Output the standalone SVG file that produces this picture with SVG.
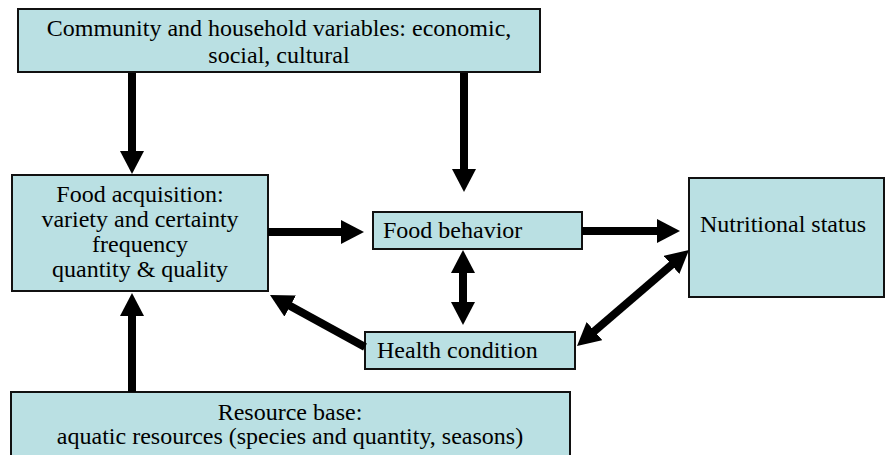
<svg xmlns="http://www.w3.org/2000/svg" width="887" height="455" viewBox="0 0 887 455">
<defs>
<marker id="ah" markerUnits="userSpaceOnUse" markerWidth="26" markerHeight="26" refX="1" refY="12" orient="auto-start-reverse" viewBox="0 0 26 26">
<path d="M0,0 L23,12 L0,24 z" fill="#000"/>
</marker>
</defs>
<rect width="887" height="455" fill="#fff"/>
<g id="community">
<rect x="18" y="9" width="522" height="63" fill="#BAE0E3" stroke="#111" stroke-width="2"/>
<text x="279" y="36" font-family="Times New Roman, Liberation Serif, serif" font-size="24" text-anchor="middle">Community and household variables: economic,</text>
<text x="279" y="63" font-family="Times New Roman, Liberation Serif, serif" font-size="24" text-anchor="middle">social, cultural</text>
</g>
<g id="food-acquisition">
<rect x="12" y="175" width="256" height="116" fill="#BAE0E3" stroke="#111" stroke-width="2"/>
<text x="140" y="202" font-family="Times New Roman, Liberation Serif, serif" font-size="24" text-anchor="middle">Food acquisition:</text>
<text x="140" y="227" font-family="Times New Roman, Liberation Serif, serif" font-size="24" text-anchor="middle">variety and certainty</text>
<text x="140" y="252" font-family="Times New Roman, Liberation Serif, serif" font-size="24" text-anchor="middle">frequency</text>
<text x="140" y="277" font-family="Times New Roman, Liberation Serif, serif" font-size="24" text-anchor="middle">quantity &amp; quality</text>
</g>
<g id="food-behavior">
<rect x="373" y="212" width="209" height="37" fill="#BAE0E3" stroke="#111" stroke-width="2"/>
<text x="383" y="238" font-family="Times New Roman, Liberation Serif, serif" font-size="24">Food behavior</text>
</g>
<g id="health-condition">
<rect x="365" y="332" width="210" height="37" fill="#BAE0E3" stroke="#111" stroke-width="2"/>
<text x="377" y="358" font-family="Times New Roman, Liberation Serif, serif" font-size="24">Health condition</text>
</g>
<g id="nutritional-status">
<rect x="689" y="178" width="195" height="119" fill="#BAE0E3" stroke="#111" stroke-width="2"/>
<text x="700" y="232" font-family="Times New Roman, Liberation Serif, serif" font-size="24">Nutritional status</text>
</g>
<g id="resource-base">
<rect x="11" y="392" width="559" height="80" fill="#BAE0E3" stroke="#111" stroke-width="2"/>
<text x="290" y="420" font-family="Times New Roman, Liberation Serif, serif" font-size="24" text-anchor="middle">Resource base:</text>
<text x="290" y="444" font-family="Times New Roman, Liberation Serif, serif" font-size="24" text-anchor="middle">aquatic resources (species and quantity, seasons)</text>
</g>
<g id="connectors" stroke="#000" stroke-width="8" fill="none">
<line x1="132" y1="73" x2="132" y2="152" marker-end="url(#ah)"/>
<line x1="464" y1="73" x2="464" y2="170" marker-end="url(#ah)"/>
<line x1="268" y1="232" x2="342" y2="232" marker-end="url(#ah)"/>
<line x1="582" y1="231" x2="658" y2="231" marker-end="url(#ah)"/>
<line x1="463" y1="272" x2="463" y2="303" marker-start="url(#ah)" marker-end="url(#ah)"/>
<line x1="365" y1="347" x2="289.3" y2="305.6" marker-end="url(#ah)"/>
<line x1="593.7" y1="331.7" x2="672.3" y2="264.3" marker-start="url(#ah)" marker-end="url(#ah)"/>
<line x1="132" y1="392" x2="132" y2="315" marker-end="url(#ah)"/>
</g>
</svg>
